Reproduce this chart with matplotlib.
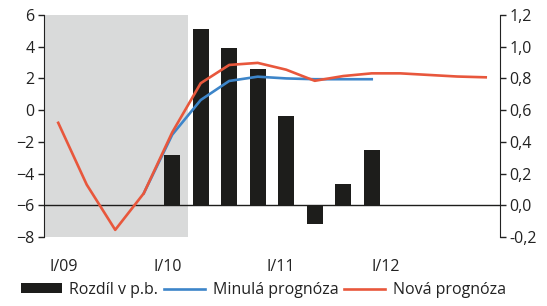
import numpy as np
import matplotlib
matplotlib.use("Agg")
import matplotlib.pyplot as plt
from matplotlib.ticker import FuncFormatter

plt.rcParams['font.family'] = ['Open Sans', 'DejaVu Sans']

# quarters I/09 .. IV/12
quarters = np.arange(16)
tick_pos = [0.2, 3.85, 7.8, 11.5]
tick_labels = ["I/09", "I/10", "I/11", "I/12"]

# new forecast (left axis)
nova = [-0.8, -4.7, -7.55, -5.25, -1.4, 1.7, 2.85, 2.98, 2.55, 1.85, 2.15, 2.32, 2.32, 2.22, 2.12, 2.07]
# previous forecast (left axis)
minula_x = np.arange(3, 12)
minula = [-5.25, -1.55, 0.64, 1.84, 2.11, 2.0, 1.95, 1.95, 1.95]
# difference in p.p. (right axis)
rozdil_x = np.arange(4, 12)
rozdil = [0.315, 1.11, 0.99, 0.86, 0.56, -0.115, 0.132, 0.347]

red = '#E8573C'
blue = '#3D85C9'
txt = '#222222'
fs = 11.5

fig = plt.figure(figsize=(5.47, 3.06), dpi=100)
ax = fig.add_axes([0.0804, 0.2255, 0.8336, 0.7255])
ax2 = ax.twinx()

ax.set_xlim(-0.5, 15.5)
ax.set_ylim(-8, 6)
ax2.set_ylim(-0.2, 1.2)

# shaded area
ax.axvspan(-0.5, 4.55, color='#D9DADA', lw=0, zorder=0)

# bars on the right axis
ax2.bar(rozdil_x, rozdil, width=0.56, color='#1D1D1B', zorder=2, label='Rozdíl v p.b.')
ax2.axhline(0, color='#1D1D1B', lw=1, zorder=3)

# lines belong to the left axis; move them onto the twin so they sit above the bars
l1, = ax.plot(minula_x, minula, color=blue, lw=1.9, label='Minulá prognóza')
l2, = ax.plot(quarters, nova, color=red, lw=1.9, label='Nová prognóza')
for ln, z in ((l1, 4), (l2, 5)):
    ln.remove()
    ln.set_transform(ax.transData)
    ln.set_zorder(z)
    ax2.add_artist(ln)
ax2.set_ylim(-0.2, 1.2)

for a in (ax, ax2):
    a.spines['top'].set_visible(False)
    a.spines['bottom'].set_visible(False)
ax.spines['right'].set_visible(False)
ax2.spines['left'].set_visible(False)
ax.spines['left'].set_color(txt)
ax2.spines['right'].set_color(txt)

ax.set_yticks(np.arange(-8, 7, 2))
ax2.set_yticks(np.arange(-0.2, 1.21, 0.2))
ax2.yaxis.set_major_formatter(FuncFormatter(lambda v, p: f"{v:.1f}".replace('.', ',').replace('-0,0', '0,0')))
ax.tick_params(axis='y', length=4, width=1, color=txt, labelcolor=txt, labelsize=fs, pad=3)
ax2.tick_params(axis='y', length=4, width=1, color=txt, labelcolor=txt, labelsize=fs, pad=3)

ax.set_xticks(tick_pos)
ax.set_xticklabels(tick_labels)
ax.tick_params(axis='x', length=0, labelcolor=txt, labelsize=fs, pad=16)

fig.legend([ax2.patches[0], l1, l2], ['Rozdíl v p.b.', 'Minulá prognóza', 'Nová prognóza'],
           loc='lower center', bbox_to_anchor=(0.481, -0.02), ncol=3, frameon=False,
           fontsize=fs, handlelength=2.6, handleheight=0.55, handletextpad=0.45,
           columnspacing=0.35, labelcolor=txt)

fig.savefig('out.png', dpi=100)
